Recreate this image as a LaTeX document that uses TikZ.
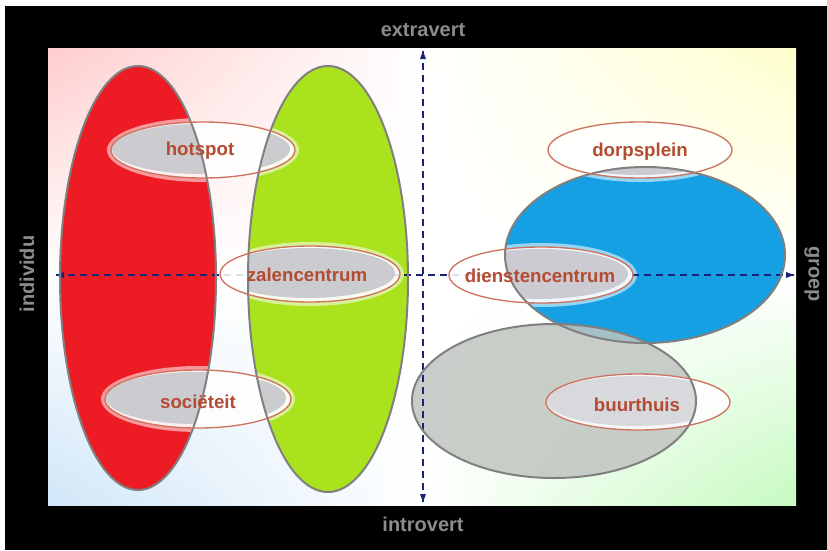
\documentclass[tikz,border=0pt]{standalone}
\usepackage{fontspec}
\setmainfont{Liberation Sans}
\usepackage{xcolor}
\usepackage{tikz}
\usetikzlibrary{shadings}
\definecolor{cornerTL}{RGB}{255,205,205}
\definecolor{cornerTR}{RGB}{255,255,205}
\definecolor{cornerBL}{RGB}{208,230,248}
\definecolor{cornerBR}{RGB}{198,250,192}

\begin{document}
\begin{tikzpicture}[x=0.75pt,y=0.75pt,yscale=-1,xscale=1,
  outline/.style={draw={rgb, 255:red, 128; green, 128; blue, 128}, line width=1.5},
  spot/.style={draw={rgb, 255:red, 205; green, 115; blue, 95}, line width=1},
  spottext/.style={inner sep=0.75pt, font=\fontsize{14}{16}\selectfont\bfseries, color={rgb, 255:red, 180; green, 75; blue, 50}},
  axistext/.style={inner sep=0.75pt, font=\fontsize{15}{18}\selectfont\bfseries, color={rgb, 255:red, 140; green, 140; blue, 140}},
  axis/.style={color={rgb, 255:red, 25; green, 35; blue, 120}, line width=1.2, dash pattern=on 5pt off 4pt},
  tip/.style={fill={rgb, 255:red, 25; green, 35; blue, 120}, draw opacity=0}
]
%set diagram size
\fill [white] (0,0) rectangle (827,550);
\useasboundingbox (0,0) rectangle (827,550);

%Shape: Rectangle [frame]
\fill [black] (5,6) rectangle (827,550);
%Shape: Rectangle [panel, four corners]
\shade [upper left=cornerTL, upper right=white, lower left=white, lower right=white] (48,48) rectangle (423,276);
\shade [upper left=white, upper right=cornerTR, lower left=white, lower right=white] (423,48) rectangle (796,276);
\shade [upper left=white, upper right=white, lower left=cornerBL, lower right=white] (48,276) rectangle (423,505);
\shade [upper left=white, upper right=white, lower left=white, lower right=cornerBR] (423,276) rectangle (796,505);

%Shape: Ellipse [red]
\fill [color={rgb, 255:red, 237; green, 28; blue, 36 }] (138,278) ellipse (78 and 212);
%Shape: Ellipse [green]
\fill [color={rgb, 255:red, 170; green, 226; blue, 30 }] (328,279) ellipse (80 and 213);
%Shape: Ellipse [blue]
\fill [color={rgb, 255:red, 22; green, 160; blue, 228 }] (645,255) ellipse (140 and 88);
%Shape: Ellipse [gray]
\fill [color={rgb, 255:red, 192; green, 197; blue, 192 }, fill opacity=0.85] (554,401) ellipse (142 and 77);

% halos round the spots
\begin{scope}
  \clip (138,278) ellipse (78 and 212) (328,279) ellipse (80 and 213) (645,255) ellipse (140 and 88);
  \fill [white, fill opacity=0.55] (203,150) ellipse (96 and 32);
  \fill [white, fill opacity=0.55] (640,150) ellipse (96 and 32);
  \fill [white, fill opacity=0.55] (310,274) ellipse (94 and 32);
  \fill [white, fill opacity=0.55] (541,275) ellipse (96 and 32);
  \fill [white, fill opacity=0.55] (198,399) ellipse (97 and 33);
\end{scope}

%Straight Lines [axes]
\coordinate (xL) at (56,275);
\coordinate (xR) at (794,275);
\coordinate (yT) at (423,51);
\coordinate (yB) at (423,502);
\draw [axis] (xL) -- (xR);
\draw [axis] (yT) -- (yB);
\fill [tip, shift={(xL)}, rotate=0] (8,-3) -- (0,0) -- (8,3) -- cycle;
\fill [tip, shift={(xR)}, rotate=180] (8,-3) -- (0,0) -- (8,3) -- cycle;
\fill [tip, shift={(yT)}, rotate=90] (8,-3) -- (0,0) -- (8,3) -- cycle;
\fill [tip, shift={(yB)}, rotate=270] (8,-3) -- (0,0) -- (8,3) -- cycle;

% spots, white part
\fill [white, fill opacity=0.85] (203,150) ellipse (92 and 28);
\fill [white, fill opacity=0.85] (640,150) ellipse (92 and 28);
\fill [white, fill opacity=0.85] (310,274) ellipse (90 and 28);
\fill [white, fill opacity=0.85] (541,275) ellipse (92 and 28);
\fill [white, fill opacity=0.85] (198,399) ellipse (93 and 29);
\fill [white, fill opacity=0.85] (638,402) ellipse (92 and 28);
% spots, gray part
\begin{scope}
  \clip (138,278) ellipse (78 and 212) (328,279) ellipse (80 and 213) (645,255) ellipse (140 and 88) (554,401) ellipse (142 and 77);
  \fill [color={rgb, 255:red, 200; green, 200; blue, 206 }, fill opacity=0.92] (201,149) ellipse (89 and 25);
  \fill [color={rgb, 255:red, 200; green, 200; blue, 206 }, fill opacity=0.92] (638,150) ellipse (89 and 25);
  \fill [color={rgb, 255:red, 200; green, 200; blue, 206 }, fill opacity=0.92] (308,273) ellipse (87 and 25);
  \fill [color={rgb, 255:red, 200; green, 200; blue, 206 }, fill opacity=0.92] (539,274) ellipse (89 and 25);
  \fill [color={rgb, 255:red, 200; green, 200; blue, 206 }, fill opacity=0.92] (196,398) ellipse (90 and 26);
  \fill [color={rgb, 255:red, 212; green, 214; blue, 218 }, fill opacity=0.9] (636,401) ellipse (89 and 25);
\end{scope}

%Shape: Ellipse [outlines]
\draw [outline] (138,278) ellipse (78 and 212);
\draw [outline] (328,279) ellipse (80 and 213);
\draw [outline] (645,255) ellipse (140 and 88);
\draw [outline] (554,401) ellipse (142 and 77);

%Shape: Ellipse [spot outlines]
\draw [spot] (203,150) ellipse (92 and 28);
\draw [spot] (640,150) ellipse (92 and 28);
\draw [spot] (310,274) ellipse (90 and 28);
\draw [spot] (541,275) ellipse (92 and 28);
\draw [spot] (198,399) ellipse (93 and 29);
\draw [spot] (638,402) ellipse (92 and 28);

% Text Node
\draw (200,151) node [spottext] (hotspot) {hotspot};
% Text Node
\draw (640,152) node [spottext] (dorpsplein) {dorpsplein};
% Text Node
\draw (307,275) node [spottext] (zalencentrum) {zalencentrum};
% Text Node
\draw (540,276) node [spottext] (dienstencentrum) {dienstencentrum};
% Text Node
\draw (198,402) node [spottext] (societeit) {sociëteit};
% Text Node
\draw (637,405) node [spottext] (buurthuis) {buurthuis};
% Text Node
\draw (423,30) node [axistext] (extravert) {extravert};
% Text Node
\draw (423,524) node [axistext] (introvert) {introvert};
% Text Node
\draw (27,274) node [axistext, rotate=90] (individu) {individu};
% Text Node
\draw (812,274) node [axistext, rotate=-90] (groep) {groep};

\end{tikzpicture}
\end{document}
